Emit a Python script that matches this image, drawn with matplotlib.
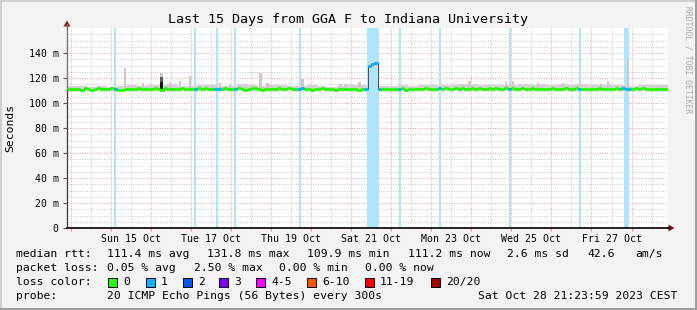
import numpy as np
import matplotlib as mpl
mpl.use('Agg')
import matplotlib.pyplot as plt
from matplotlib.patches import Rectangle, Polygon
from matplotlib.lines import Line2D

W, H = 697, 310
MONO = 'DejaVu Sans Mono'

# x = days since Sat 14 Oct 00:00, graph runs over 15 days
x_start, x_end = -0.09, 14.91

# median rtt in ms, one value per 2 hours from the left edge
median_ms = [
    111.5, 110.9, 111.6, 111.2, 110.8, 111.7, 111.2, 110.7, 111.4, 111.8, 111.0, 111.3,
    111.2, 111.7, 111.3, 110.2, 110.6, 111.0, 111.4, 111.6, 110.9, 111.7, 111.2, 110.9,
    111.5, 111.1, 111.8, 111.3, 110.4, 111.9, 111.5, 111.0, 111.4, 110.9, 111.7, 111.2,
    111.4, 110.9, 111.2, 111.7, 111.3, 111.9, 111.1, 111.5, 110.9, 111.6, 111.2, 111.8,
    111.4, 111.0, 111.6, 111.9, 111.3, 110.8, 111.2, 111.7, 111.8, 111.3, 110.8, 111.2,
    110.9, 111.5, 111.1, 111.7, 111.3, 111.0, 111.8, 110.9, 111.4, 111.1, 111.7, 111.3,
    111.1, 110.8, 111.4, 111.2, 111.7, 110.9, 111.4, 111.1, 110.7, 110.9, 111.4, 111.2,
    111.0, 111.5, 111.2, 110.8, 111.3, 111.0, 129.5, 131.2, 131.8, 111.6, 111.2, 110.9,
    111.3, 110.9, 111.5, 111.1, 111.7, 110.8, 111.2, 110.9, 111.5, 111.1, 110.9, 111.7,
    111.2, 111.6, 110.9, 111.7, 111.1, 111.9, 111.4, 111.1, 111.9, 111.3, 111.7, 111.1,
    111.4, 111.8, 111.1, 111.7, 111.3, 110.9, 111.7, 111.2, 111.9, 111.3, 111.0, 111.7,
    111.1, 111.9, 111.4, 111.1, 111.7, 110.9, 111.3, 111.8, 111.1, 111.6, 111.3, 111.0,
    111.4, 111.8, 111.1, 111.4, 110.9, 111.7, 111.1, 111.4, 111.8, 111.1, 111.3, 110.9,
    111.6, 111.1, 111.4, 111.8, 111.1, 110.9, 111.4, 111.2, 111.7, 111.3, 111.8, 111.1,
    111.4, 110.9, 111.7, 111.2, 111.8, 111.3, 111.0, 111.6, 111.3, 111.1, 111.6, 111.2,
]

# smoke band (spread of the pings), one value per 6 hours
smoke_lo = [
    110.0, 110.1, 110.0, 110.2, 110.1, 110.0, 110.1, 110.0, 110.2, 110.1,
    110.0, 110.1, 110.2, 110.0, 110.1, 110.0, 110.2, 110.1, 110.0, 110.1,
    110.1, 110.0, 110.2, 110.1, 110.0, 110.1, 110.0, 110.1, 110.0, 110.1,
    128.0, 110.0, 110.1, 110.2, 110.0, 110.1, 110.0, 110.2, 110.1, 110.0,
    110.1, 110.2, 110.0, 110.1, 110.0, 110.2, 110.1, 110.0, 110.1, 110.2,
    110.0, 110.1, 110.2, 110.0, 110.1, 110.0, 110.2, 110.1, 110.0, 110.1,
]
smoke_hi = [
    113.4, 114.0, 113.2, 113.7, 113.1, 113.8, 114.4, 113.6, 114.1, 114.7,
    115.0, 113.9, 113.5, 114.3, 114.8, 114.0, 113.4, 115.1, 114.2, 113.7,
    114.1, 114.5, 113.3, 113.8, 114.2, 113.6, 113.2, 113.9, 114.4, 114.8,
    132.5, 113.7, 114.0, 114.2, 113.8, 114.5, 114.1, 114.3, 114.7, 115.0,
    115.2, 114.4, 114.8, 114.1, 114.6, 115.1, 114.3, 114.9, 114.5, 115.3,
    114.4, 115.0, 114.6, 114.1, 114.7, 114.2, 114.0, 114.5, 114.8, 114.1,
]

# single smoke spikes: day and top (ms)
spike_day = [1.36, 1.81, 2.27, 2.485, 2.735, 2.985, 3.735, 3.985, 4.735, 4.91,
             5.785, 6.735, 6.86, 7.21, 9.61, 9.785, 9.96, 10.86, 11.035, 11.66,
             12.285, 12.66, 13.235, 13.41, 13.91]
spike_top = [128.0, 116.0, 124.0, 117.0, 118.0, 122.0, 116.0, 114.5, 124.0, 116.0,
             119.0, 115.0, 115.0, 117.0, 114.5, 115.0, 118.0, 117.0, 118.0, 116.0,
             116.0, 115.5, 115.0, 118.0, 135.0]
# dense (dark) part of the smoke
dense_day = [2.27]
dense_mid = [121.0]
dense_low = [116.5]

# periods with 1 lost ping (days)
loss_from = [1.085, 3.085, 3.635, 4.085, 5.71, 7.40, 8.185, 9.185, 10.935, 12.685, 13.82]
loss_to = [1.135, 3.135, 3.685, 4.135, 5.76, 7.685, 8.235, 9.235, 10.985, 12.735, 13.935]

day_labels = ['', 'Sun 15 Oct', '', 'Tue 17 Oct', '', 'Thu 19 Oct', '', 'Sat 21 Oct',
              '', 'Mon 23 Oct', '', 'Wed 25 Oct', '', 'Fri 27 Oct', '']
y_vals = [0, 20, 40, 60, 80, 100, 120, 140]
y_labels = ['0', '20 m', '40 m', '60 m', '80 m', '100 m', '120 m', '140 m']

loss_names = ['0', '1', '2', '3', '4-5', '6-10', '11-19', '20/20']
loss_colors = ['#26ff00', '#00b8ff', '#0059ff', '#7e00ff', '#ff00ff', '#ff5500', '#ff0000', '#a10000']


def fx(px):
    return px / W


def fy(py):
    return 1 - py / H


fig = plt.figure(figsize=(W / 100, H / 100), dpi=100)
fig.patch.set_facecolor('#f3f3f3')
ax = fig.add_axes([fx(67), fy(228), 601 / W, 200 / H])
ax.set_facecolor('white')

# loss background
for a, b in zip(loss_from, loss_to):
    ax.axvspan(a, b, color='#aee5fa', lw=0, zorder=1)

# smoke
smoke_edges = x_start + np.arange(len(smoke_hi) + 1) * 0.25
ax.stairs(smoke_hi, smoke_edges, baseline=smoke_lo, fill=True, color='#d3d3d3', lw=0, zorder=2)
base = [112.0] * len(spike_day)
ax.bar(spike_day, np.array(spike_top) - 112.0, bottom=base, width=0.06,
       color='#cacaca', lw=0, zorder=2)
ax.bar(dense_day, np.array(dense_mid) - 112.0, bottom=112.0, width=0.06,
       color='#5a5a5a', lw=0, zorder=3)
ax.bar(dense_day, np.array(dense_low) - 110.5, bottom=110.5, width=0.06,
       color='#181818', lw=0, zorder=3)

# median line, coloured by loss
med_edges = x_start + np.arange(len(median_ms) + 1) / 12
ax.stairs(median_ms, med_edges, color='#303030', lw=0.6, zorder=4)
seg_colors = []
for i in range(len(median_ms)):
    c = loss_colors[0]
    for a, b in zip(loss_from, loss_to):
        if med_edges[i] < b and med_edges[i + 1] > a:
            c = loss_colors[1]
    seg_colors.append(c)
ax.hlines(median_ms, med_edges[:-1], med_edges[1:], colors=seg_colors, lw=2.2, zorder=5)

ax.set_xlim(x_start, x_end)
ax.set_ylim(0, 160)

# grid
ax.set_xticks(np.arange(0, 15))
ax.set_xticklabels([])
ax.set_xticks(np.arange(0, 15) + 0.5, labels=day_labels, minor=True)
ax.set_yticks(y_vals, labels=y_labels)
ax.set_yticks(np.arange(0, 160, 5), minor=True)
ax.grid(which='major', color='#f4a0a0', lw=0.7, linestyle=(0, (1, 1.5)), zorder=0)
ax.grid(which='minor', color='#c8c8c8', lw=0.7, linestyle=(0, (1, 1.5)), zorder=0)
ax.set_axisbelow(True)

ax.tick_params(axis='x', which='major', length=2, color='#f08080', width=0.7, direction='out')
ax.tick_params(axis='x', which='minor', length=0, pad=4, labelsize=7.1)
ax.tick_params(axis='y', which='major', length=3, color='#555555', width=0.8, pad=3, labelsize=7.1)
ax.tick_params(axis='y', which='minor', length=0)
for lab in ax.get_xticklabels(minor=True) + ax.get_yticklabels():
    lab.set_family(MONO)

for s in ['top', 'right']:
    ax.spines[s].set_visible(False)
ax.spines['left'].set_color('#777777')
ax.spines['left'].set_linewidth(1.0)
ax.spines['bottom'].set_color('black')
ax.spines['bottom'].set_linewidth(1.2)

# axis extensions and arrows
fig.add_artist(Line2D([fx(67), fx(67)], [fy(28), fy(24)], color='#777777', lw=1.0))
fig.add_artist(Line2D([fx(668), fx(670)], [fy(228), fy(228)], color='black', lw=1.2))
fig.add_artist(Polygon([[fx(63.5), fy(26.5)], [fx(70.5), fy(26.5)], [fx(67), fy(20.5)]],
                       closed=True, color='#8b1a1a', lw=0))
fig.add_artist(Polygon([[fx(668.5), fy(224.5)], [fx(668.5), fy(231.5)], [fx(674.5), fy(228)]],
                       closed=True, color='#8b1a1a', lw=0))

# frame
fig.add_artist(Rectangle((0, fy(2)), 1, 2 / H, color='#cfcfcf', lw=0))
fig.add_artist(Rectangle((0, 0), 2 / W, 1, color='#cfcfcf', lw=0))
fig.add_artist(Rectangle((fx(695), 0), 2 / W, 1, color='#9e9e9e', lw=0))
fig.add_artist(Rectangle((0, 0), 1, 2 / H, color='#9e9e9e', lw=0))

fig.text(fx(348), fy(19), 'Last 15 Days from GGA F to Indiana University',
         ha='center', va='center', size=9.6, family=MONO)
fig.text(fx(10), fy(128), 'Seconds', rotation=90, ha='center', va='center', size=8.2, family=MONO)
fig.text(fx(688), fy(6), 'RRDTOOL / TOBI OETIKER', rotation=270, ha='center', va='top',
         size=5.8, family=MONO, color='#aaaaaa')

# legend
row_y = [254, 268, 282, 296]
leg = dict(ha='left', va='center', size=8.2, family=MONO)
rtt_text = ['median rtt:', '111.4 ms avg', '131.8 ms max', '109.9 ms min',
            '111.2 ms now', '2.6 ms sd', '42.6', 'am/s']
rtt_x = [16, 107, 207, 307, 408, 507, 587, 635]
for t, x in zip(rtt_text, rtt_x):
    fig.text(fx(x), fy(row_y[0]), t, **leg)
pl_text = ['packet loss:', '0.05 % avg', '2.50 % max', '0.00 % min', '0.00 % now']
pl_x = [16, 107, 194, 279, 365]
for t, x in zip(pl_text, pl_x):
    fig.text(fx(x), fy(row_y[1]), t, **leg)
fig.text(fx(16), fy(row_y[2]), 'loss color:', **leg)
box_x = [108, 146, 183, 219, 256, 307, 365, 431]
for name, c, x in zip(loss_names, loss_colors, box_x):
    fig.add_artist(Rectangle((fx(x), fy(row_y[2] + 4.5)), 9 / W, 9 / H,
                             facecolor=c, edgecolor='black', lw=0.7))
    fig.text(fx(x + 15), fy(row_y[2]), name, **leg)
fig.text(fx(16), fy(row_y[3]), 'probe:', **leg)
fig.text(fx(107), fy(row_y[3]), '20 ICMP Echo Pings (56 Bytes) every 300s', **leg)
fig.text(fx(478), fy(row_y[3]), 'Sat Oct 28 21:23:59 2023 CEST', **leg)

fig.savefig('out.png', dpi=100, facecolor=fig.get_facecolor())
